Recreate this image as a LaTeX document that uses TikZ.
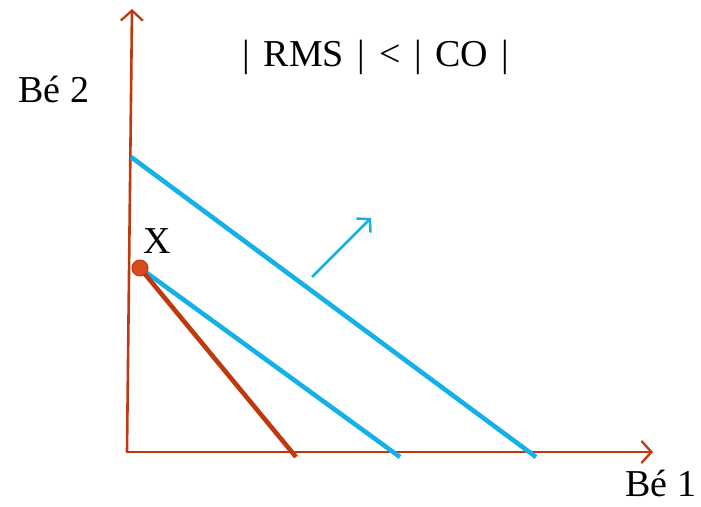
\documentclass[tikz,border=0pt]{standalone}
\usepackage{fontspec}
\setmainfont{Liberation Serif}
\usetikzlibrary{arrows.meta}
\definecolor{axred}{RGB}{190,58,14}
\definecolor{dotred}{RGB}{214,76,30}
\definecolor{skyb}{RGB}{22,176,232}
\newcommand{\gp}{\hspace{0.36em}}
\tikzset{
  axis/.style={draw=axred, line width=2.6pt, -{Straight Barb[length=10pt,width=22pt,line width=2.3pt]}},
  budget/.style={draw=skyb, line width=4.6pt},
  redline/.style={draw=axred, line width=4.6pt},
  lbl/.style={font=\fontsize{38}{44}\selectfont, inner sep=0pt, anchor=base}
}
\begin{document}
\begin{tikzpicture}[x=1pt,y=-1pt]
\useasboundingbox (0,0) rectangle (701,506);
\coordinate (O) at (127,452);
\coordinate (ytop) at (132,9);
\coordinate (xend) at (653,452);
\draw[axis] (O) -- (ytop);
\draw[axis] ([xshift=-1.3pt]O) -- (xend);
\coordinate (o1) at (131,157);
\coordinate (o2) at (536,457);
\coordinate (i1) at (140,268);
\coordinate (i2) at (400,457);
\coordinate (r2) at (296,457);
\draw[budget] (o1) -- (o2);
\draw[budget] (i1) -- (i2);
\draw[redline] (i1) -- (r2);
\node[circle, fill=dotred, draw=axred, line width=1pt, minimum size=16pt, inner sep=0pt] (X) at (i1) {};
\coordinate (a1) at (312,277);
\coordinate (a2) at (371,218);
\draw[draw=skyb, line width=2.8pt, -{Straight Barb[length=9pt,width=20pt,line width=2.5pt]}] (a1) -- (a2);
\node[lbl] (xl) at (157.5,253) {X};
\node[lbl] (b2) at (54,102) {Bé 2};
\node[lbl] (b1) at (661,496) {Bé 1};
\node[lbl] (t) at (376,66) {|\gp RMS\gp |\gp <\gp |\gp CO\gp |};
\end{tikzpicture}
\end{document}
